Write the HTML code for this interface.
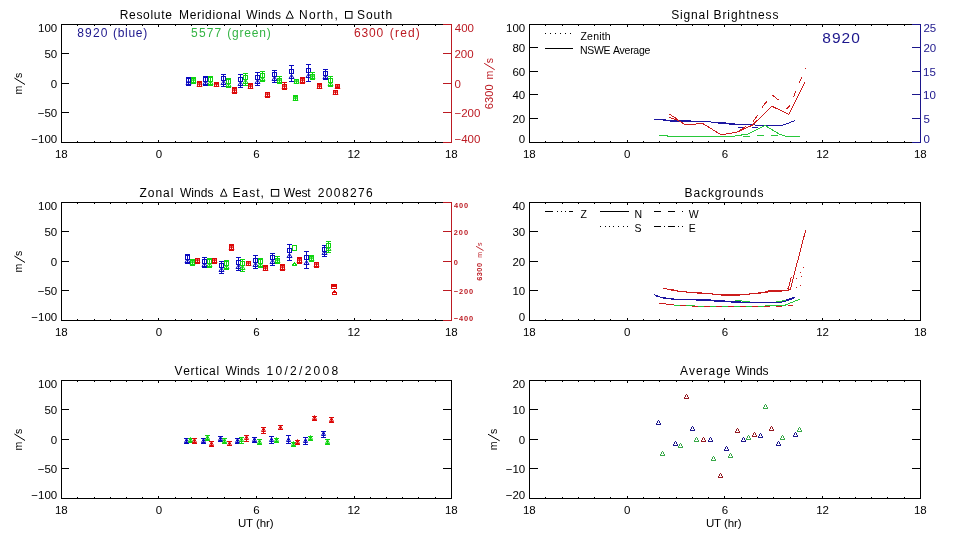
<!DOCTYPE html>
<html><head><meta charset="utf-8"><style>
html,body{margin:0;padding:0;background:#fff;}
svg{display:block;will-change:transform;}
text{font-family:"Liberation Sans",sans-serif;font-kerning:none;white-space:pre;}
</style></head><body>
<svg width="960" height="540" viewBox="0 0 960 540">
<rect width="960" height="540" fill="#fff"/>
<rect x="61" y="24" width="391" height="1" fill="#000"/>
<rect x="61" y="142" width="391" height="1" fill="#000"/>
<rect x="61" y="24" width="1" height="119" fill="#000"/>
<rect x="451" y="24" width="1" height="119" fill="#000"/>
<rect x="77" y="141" width="1" height="1" fill="#000"/>
<rect x="77" y="25" width="1" height="1" fill="#000"/>
<rect x="94" y="141" width="1" height="1" fill="#000"/>
<rect x="94" y="25" width="1" height="1" fill="#000"/>
<rect x="110" y="141" width="1" height="1" fill="#000"/>
<rect x="110" y="25" width="1" height="1" fill="#000"/>
<rect x="126" y="141" width="1" height="1" fill="#000"/>
<rect x="126" y="25" width="1" height="1" fill="#000"/>
<rect x="142" y="141" width="1" height="1" fill="#000"/>
<rect x="142" y="25" width="1" height="1" fill="#000"/>
<rect x="158" y="140" width="1" height="2" fill="#000"/>
<rect x="158" y="25" width="1" height="2" fill="#000"/>
<rect x="175" y="141" width="1" height="1" fill="#000"/>
<rect x="175" y="25" width="1" height="1" fill="#000"/>
<rect x="191" y="141" width="1" height="1" fill="#000"/>
<rect x="191" y="25" width="1" height="1" fill="#000"/>
<rect x="207" y="141" width="1" height="1" fill="#000"/>
<rect x="207" y="25" width="1" height="1" fill="#000"/>
<rect x="224" y="141" width="1" height="1" fill="#000"/>
<rect x="224" y="25" width="1" height="1" fill="#000"/>
<rect x="240" y="141" width="1" height="1" fill="#000"/>
<rect x="240" y="25" width="1" height="1" fill="#000"/>
<rect x="256" y="140" width="1" height="2" fill="#000"/>
<rect x="256" y="25" width="1" height="2" fill="#000"/>
<rect x="272" y="141" width="1" height="1" fill="#000"/>
<rect x="272" y="25" width="1" height="1" fill="#000"/>
<rect x="288" y="141" width="1" height="1" fill="#000"/>
<rect x="288" y="25" width="1" height="1" fill="#000"/>
<rect x="305" y="141" width="1" height="1" fill="#000"/>
<rect x="305" y="25" width="1" height="1" fill="#000"/>
<rect x="321" y="141" width="1" height="1" fill="#000"/>
<rect x="321" y="25" width="1" height="1" fill="#000"/>
<rect x="337" y="141" width="1" height="1" fill="#000"/>
<rect x="337" y="25" width="1" height="1" fill="#000"/>
<rect x="354" y="140" width="1" height="2" fill="#000"/>
<rect x="354" y="25" width="1" height="2" fill="#000"/>
<rect x="370" y="141" width="1" height="1" fill="#000"/>
<rect x="370" y="25" width="1" height="1" fill="#000"/>
<rect x="386" y="141" width="1" height="1" fill="#000"/>
<rect x="386" y="25" width="1" height="1" fill="#000"/>
<rect x="402" y="141" width="1" height="1" fill="#000"/>
<rect x="402" y="25" width="1" height="1" fill="#000"/>
<rect x="418" y="141" width="1" height="1" fill="#000"/>
<rect x="418" y="25" width="1" height="1" fill="#000"/>
<rect x="435" y="141" width="1" height="1" fill="#000"/>
<rect x="435" y="25" width="1" height="1" fill="#000"/>
<text x="54.92" y="158" font-size="11.5" fill="#000" letter-spacing="0">18</text>
<text x="155.8" y="158" font-size="11.5" fill="#000" letter-spacing="0">0</text>
<text x="253.26" y="158" font-size="11.5" fill="#000" letter-spacing="0">6</text>
<text x="347.46" y="158" font-size="11.5" fill="#000" letter-spacing="0">12</text>
<text x="444.92" y="158" font-size="11.5" fill="#000" letter-spacing="0">18</text>
<text x="38.06" y="32.2" font-size="11.5" fill="#000" letter-spacing="0">100</text>
<rect x="62" y="53" width="7" height="1" fill="#000"/>
<text x="44.46" y="58" font-size="11.5" fill="#000" letter-spacing="0">50</text>
<rect x="62" y="83" width="7" height="1" fill="#000"/>
<text x="50.85" y="87.5" font-size="11.5" fill="#000" letter-spacing="0">0</text>
<rect x="62" y="112" width="7" height="1" fill="#000"/>
<text x="37.74" y="117" font-size="11.5" fill="#000" letter-spacing="0">−50</text>
<text x="31.35" y="142.9" font-size="11.5" fill="#000" letter-spacing="0">−100</text>
<text transform="translate(22.2,0) rotate(-90)" x="-94.38" y="0" font-size="10.5" fill="#000" letter-spacing="0">m</text>
<text transform="translate(22.2,0) rotate(-90)" x="-77.98" y="0" font-size="10.5" fill="#000" letter-spacing="0">s</text>
<line x1="14.4" y1="78" x2="25" y2="84.5" stroke="#000" stroke-width="1"/>
<rect x="61" y="202" width="391" height="1" fill="#000"/>
<rect x="61" y="320" width="391" height="1" fill="#000"/>
<rect x="61" y="202" width="1" height="119" fill="#000"/>
<rect x="451" y="202" width="1" height="119" fill="#000"/>
<rect x="77" y="319" width="1" height="1" fill="#000"/>
<rect x="77" y="203" width="1" height="1" fill="#000"/>
<rect x="94" y="319" width="1" height="1" fill="#000"/>
<rect x="94" y="203" width="1" height="1" fill="#000"/>
<rect x="110" y="319" width="1" height="1" fill="#000"/>
<rect x="110" y="203" width="1" height="1" fill="#000"/>
<rect x="126" y="319" width="1" height="1" fill="#000"/>
<rect x="126" y="203" width="1" height="1" fill="#000"/>
<rect x="142" y="319" width="1" height="1" fill="#000"/>
<rect x="142" y="203" width="1" height="1" fill="#000"/>
<rect x="158" y="318" width="1" height="2" fill="#000"/>
<rect x="158" y="203" width="1" height="2" fill="#000"/>
<rect x="175" y="319" width="1" height="1" fill="#000"/>
<rect x="175" y="203" width="1" height="1" fill="#000"/>
<rect x="191" y="319" width="1" height="1" fill="#000"/>
<rect x="191" y="203" width="1" height="1" fill="#000"/>
<rect x="207" y="319" width="1" height="1" fill="#000"/>
<rect x="207" y="203" width="1" height="1" fill="#000"/>
<rect x="224" y="319" width="1" height="1" fill="#000"/>
<rect x="224" y="203" width="1" height="1" fill="#000"/>
<rect x="240" y="319" width="1" height="1" fill="#000"/>
<rect x="240" y="203" width="1" height="1" fill="#000"/>
<rect x="256" y="318" width="1" height="2" fill="#000"/>
<rect x="256" y="203" width="1" height="2" fill="#000"/>
<rect x="272" y="319" width="1" height="1" fill="#000"/>
<rect x="272" y="203" width="1" height="1" fill="#000"/>
<rect x="288" y="319" width="1" height="1" fill="#000"/>
<rect x="288" y="203" width="1" height="1" fill="#000"/>
<rect x="305" y="319" width="1" height="1" fill="#000"/>
<rect x="305" y="203" width="1" height="1" fill="#000"/>
<rect x="321" y="319" width="1" height="1" fill="#000"/>
<rect x="321" y="203" width="1" height="1" fill="#000"/>
<rect x="337" y="319" width="1" height="1" fill="#000"/>
<rect x="337" y="203" width="1" height="1" fill="#000"/>
<rect x="354" y="318" width="1" height="2" fill="#000"/>
<rect x="354" y="203" width="1" height="2" fill="#000"/>
<rect x="370" y="319" width="1" height="1" fill="#000"/>
<rect x="370" y="203" width="1" height="1" fill="#000"/>
<rect x="386" y="319" width="1" height="1" fill="#000"/>
<rect x="386" y="203" width="1" height="1" fill="#000"/>
<rect x="402" y="319" width="1" height="1" fill="#000"/>
<rect x="402" y="203" width="1" height="1" fill="#000"/>
<rect x="418" y="319" width="1" height="1" fill="#000"/>
<rect x="418" y="203" width="1" height="1" fill="#000"/>
<rect x="435" y="319" width="1" height="1" fill="#000"/>
<rect x="435" y="203" width="1" height="1" fill="#000"/>
<text x="54.92" y="336" font-size="11.5" fill="#000" letter-spacing="0">18</text>
<text x="155.8" y="336" font-size="11.5" fill="#000" letter-spacing="0">0</text>
<text x="253.26" y="336" font-size="11.5" fill="#000" letter-spacing="0">6</text>
<text x="347.46" y="336" font-size="11.5" fill="#000" letter-spacing="0">12</text>
<text x="444.92" y="336" font-size="11.5" fill="#000" letter-spacing="0">18</text>
<text x="38.06" y="210.2" font-size="11.5" fill="#000" letter-spacing="0">100</text>
<rect x="62" y="231" width="7" height="1" fill="#000"/>
<text x="44.46" y="236" font-size="11.5" fill="#000" letter-spacing="0">50</text>
<rect x="62" y="261" width="7" height="1" fill="#000"/>
<text x="50.85" y="265.5" font-size="11.5" fill="#000" letter-spacing="0">0</text>
<rect x="62" y="290" width="7" height="1" fill="#000"/>
<text x="37.74" y="295" font-size="11.5" fill="#000" letter-spacing="0">−50</text>
<text x="31.35" y="320.9" font-size="11.5" fill="#000" letter-spacing="0">−100</text>
<text transform="translate(22.2,0) rotate(-90)" x="-272.38" y="0" font-size="10.5" fill="#000" letter-spacing="0">m</text>
<text transform="translate(22.2,0) rotate(-90)" x="-255.98" y="0" font-size="10.5" fill="#000" letter-spacing="0">s</text>
<line x1="14.4" y1="256" x2="25" y2="262.5" stroke="#000" stroke-width="1"/>
<rect x="61" y="380" width="391" height="1" fill="#000"/>
<rect x="61" y="498" width="391" height="1" fill="#000"/>
<rect x="61" y="380" width="1" height="119" fill="#000"/>
<rect x="451" y="380" width="1" height="119" fill="#000"/>
<rect x="77" y="497" width="1" height="1" fill="#000"/>
<rect x="77" y="381" width="1" height="1" fill="#000"/>
<rect x="94" y="497" width="1" height="1" fill="#000"/>
<rect x="94" y="381" width="1" height="1" fill="#000"/>
<rect x="110" y="497" width="1" height="1" fill="#000"/>
<rect x="110" y="381" width="1" height="1" fill="#000"/>
<rect x="126" y="497" width="1" height="1" fill="#000"/>
<rect x="126" y="381" width="1" height="1" fill="#000"/>
<rect x="142" y="497" width="1" height="1" fill="#000"/>
<rect x="142" y="381" width="1" height="1" fill="#000"/>
<rect x="158" y="496" width="1" height="2" fill="#000"/>
<rect x="158" y="381" width="1" height="2" fill="#000"/>
<rect x="175" y="497" width="1" height="1" fill="#000"/>
<rect x="175" y="381" width="1" height="1" fill="#000"/>
<rect x="191" y="497" width="1" height="1" fill="#000"/>
<rect x="191" y="381" width="1" height="1" fill="#000"/>
<rect x="207" y="497" width="1" height="1" fill="#000"/>
<rect x="207" y="381" width="1" height="1" fill="#000"/>
<rect x="224" y="497" width="1" height="1" fill="#000"/>
<rect x="224" y="381" width="1" height="1" fill="#000"/>
<rect x="240" y="497" width="1" height="1" fill="#000"/>
<rect x="240" y="381" width="1" height="1" fill="#000"/>
<rect x="256" y="496" width="1" height="2" fill="#000"/>
<rect x="256" y="381" width="1" height="2" fill="#000"/>
<rect x="272" y="497" width="1" height="1" fill="#000"/>
<rect x="272" y="381" width="1" height="1" fill="#000"/>
<rect x="288" y="497" width="1" height="1" fill="#000"/>
<rect x="288" y="381" width="1" height="1" fill="#000"/>
<rect x="305" y="497" width="1" height="1" fill="#000"/>
<rect x="305" y="381" width="1" height="1" fill="#000"/>
<rect x="321" y="497" width="1" height="1" fill="#000"/>
<rect x="321" y="381" width="1" height="1" fill="#000"/>
<rect x="337" y="497" width="1" height="1" fill="#000"/>
<rect x="337" y="381" width="1" height="1" fill="#000"/>
<rect x="354" y="496" width="1" height="2" fill="#000"/>
<rect x="354" y="381" width="1" height="2" fill="#000"/>
<rect x="370" y="497" width="1" height="1" fill="#000"/>
<rect x="370" y="381" width="1" height="1" fill="#000"/>
<rect x="386" y="497" width="1" height="1" fill="#000"/>
<rect x="386" y="381" width="1" height="1" fill="#000"/>
<rect x="402" y="497" width="1" height="1" fill="#000"/>
<rect x="402" y="381" width="1" height="1" fill="#000"/>
<rect x="418" y="497" width="1" height="1" fill="#000"/>
<rect x="418" y="381" width="1" height="1" fill="#000"/>
<rect x="435" y="497" width="1" height="1" fill="#000"/>
<rect x="435" y="381" width="1" height="1" fill="#000"/>
<text x="54.92" y="514" font-size="11.5" fill="#000" letter-spacing="0">18</text>
<text x="155.8" y="514" font-size="11.5" fill="#000" letter-spacing="0">0</text>
<text x="253.26" y="514" font-size="11.5" fill="#000" letter-spacing="0">6</text>
<text x="347.46" y="514" font-size="11.5" fill="#000" letter-spacing="0">12</text>
<text x="444.92" y="514" font-size="11.5" fill="#000" letter-spacing="0">18</text>
<text x="38.06" y="388.2" font-size="11.5" fill="#000" letter-spacing="0">100</text>
<rect x="62" y="409" width="7" height="1" fill="#000"/>
<text x="44.46" y="414" font-size="11.5" fill="#000" letter-spacing="0">50</text>
<rect x="62" y="439" width="7" height="1" fill="#000"/>
<text x="50.85" y="443.5" font-size="11.5" fill="#000" letter-spacing="0">0</text>
<rect x="62" y="468" width="7" height="1" fill="#000"/>
<text x="37.74" y="473" font-size="11.5" fill="#000" letter-spacing="0">−50</text>
<text x="31.35" y="498.9" font-size="11.5" fill="#000" letter-spacing="0">−100</text>
<text transform="translate(22.2,0) rotate(-90)" x="-450.38" y="0" font-size="10.5" fill="#000" letter-spacing="0">m</text>
<text transform="translate(22.2,0) rotate(-90)" x="-433.98" y="0" font-size="10.5" fill="#000" letter-spacing="0">s</text>
<line x1="14.4" y1="434" x2="25" y2="440.5" stroke="#000" stroke-width="1"/>
<rect x="529" y="24" width="392" height="1" fill="#000"/>
<rect x="529" y="142" width="392" height="1" fill="#000"/>
<rect x="529" y="24" width="1" height="119" fill="#000"/>
<rect x="920" y="24" width="1" height="119" fill="#000"/>
<rect x="545" y="141" width="1" height="1" fill="#000"/>
<rect x="545" y="25" width="1" height="1" fill="#000"/>
<rect x="562" y="141" width="1" height="1" fill="#000"/>
<rect x="562" y="25" width="1" height="1" fill="#000"/>
<rect x="578" y="141" width="1" height="1" fill="#000"/>
<rect x="578" y="25" width="1" height="1" fill="#000"/>
<rect x="594" y="141" width="1" height="1" fill="#000"/>
<rect x="594" y="25" width="1" height="1" fill="#000"/>
<rect x="610" y="141" width="1" height="1" fill="#000"/>
<rect x="610" y="25" width="1" height="1" fill="#000"/>
<rect x="627" y="140" width="1" height="2" fill="#000"/>
<rect x="627" y="25" width="1" height="2" fill="#000"/>
<rect x="643" y="141" width="1" height="1" fill="#000"/>
<rect x="643" y="25" width="1" height="1" fill="#000"/>
<rect x="659" y="141" width="1" height="1" fill="#000"/>
<rect x="659" y="25" width="1" height="1" fill="#000"/>
<rect x="676" y="141" width="1" height="1" fill="#000"/>
<rect x="676" y="25" width="1" height="1" fill="#000"/>
<rect x="692" y="141" width="1" height="1" fill="#000"/>
<rect x="692" y="25" width="1" height="1" fill="#000"/>
<rect x="708" y="141" width="1" height="1" fill="#000"/>
<rect x="708" y="25" width="1" height="1" fill="#000"/>
<rect x="724" y="140" width="1" height="2" fill="#000"/>
<rect x="724" y="25" width="1" height="2" fill="#000"/>
<rect x="741" y="141" width="1" height="1" fill="#000"/>
<rect x="741" y="25" width="1" height="1" fill="#000"/>
<rect x="757" y="141" width="1" height="1" fill="#000"/>
<rect x="757" y="25" width="1" height="1" fill="#000"/>
<rect x="773" y="141" width="1" height="1" fill="#000"/>
<rect x="773" y="25" width="1" height="1" fill="#000"/>
<rect x="790" y="141" width="1" height="1" fill="#000"/>
<rect x="790" y="25" width="1" height="1" fill="#000"/>
<rect x="806" y="141" width="1" height="1" fill="#000"/>
<rect x="806" y="25" width="1" height="1" fill="#000"/>
<rect x="822" y="140" width="1" height="2" fill="#000"/>
<rect x="822" y="25" width="1" height="2" fill="#000"/>
<rect x="839" y="141" width="1" height="1" fill="#000"/>
<rect x="839" y="25" width="1" height="1" fill="#000"/>
<rect x="855" y="141" width="1" height="1" fill="#000"/>
<rect x="855" y="25" width="1" height="1" fill="#000"/>
<rect x="871" y="141" width="1" height="1" fill="#000"/>
<rect x="871" y="25" width="1" height="1" fill="#000"/>
<rect x="887" y="141" width="1" height="1" fill="#000"/>
<rect x="887" y="25" width="1" height="1" fill="#000"/>
<rect x="904" y="141" width="1" height="1" fill="#000"/>
<rect x="904" y="25" width="1" height="1" fill="#000"/>
<text x="522.92" y="158" font-size="11.5" fill="#000" letter-spacing="0">18</text>
<text x="624.05" y="158" font-size="11.5" fill="#000" letter-spacing="0">0</text>
<text x="721.76" y="158" font-size="11.5" fill="#000" letter-spacing="0">6</text>
<text x="816.21" y="158" font-size="11.5" fill="#000" letter-spacing="0">12</text>
<text x="913.92" y="158" font-size="11.5" fill="#000" letter-spacing="0">18</text>
<rect x="529" y="202" width="392" height="1" fill="#000"/>
<rect x="529" y="320" width="392" height="1" fill="#000"/>
<rect x="529" y="202" width="1" height="119" fill="#000"/>
<rect x="920" y="202" width="1" height="119" fill="#000"/>
<rect x="545" y="319" width="1" height="1" fill="#000"/>
<rect x="545" y="203" width="1" height="1" fill="#000"/>
<rect x="562" y="319" width="1" height="1" fill="#000"/>
<rect x="562" y="203" width="1" height="1" fill="#000"/>
<rect x="578" y="319" width="1" height="1" fill="#000"/>
<rect x="578" y="203" width="1" height="1" fill="#000"/>
<rect x="594" y="319" width="1" height="1" fill="#000"/>
<rect x="594" y="203" width="1" height="1" fill="#000"/>
<rect x="610" y="319" width="1" height="1" fill="#000"/>
<rect x="610" y="203" width="1" height="1" fill="#000"/>
<rect x="627" y="318" width="1" height="2" fill="#000"/>
<rect x="627" y="203" width="1" height="2" fill="#000"/>
<rect x="643" y="319" width="1" height="1" fill="#000"/>
<rect x="643" y="203" width="1" height="1" fill="#000"/>
<rect x="659" y="319" width="1" height="1" fill="#000"/>
<rect x="659" y="203" width="1" height="1" fill="#000"/>
<rect x="676" y="319" width="1" height="1" fill="#000"/>
<rect x="676" y="203" width="1" height="1" fill="#000"/>
<rect x="692" y="319" width="1" height="1" fill="#000"/>
<rect x="692" y="203" width="1" height="1" fill="#000"/>
<rect x="708" y="319" width="1" height="1" fill="#000"/>
<rect x="708" y="203" width="1" height="1" fill="#000"/>
<rect x="724" y="318" width="1" height="2" fill="#000"/>
<rect x="724" y="203" width="1" height="2" fill="#000"/>
<rect x="741" y="319" width="1" height="1" fill="#000"/>
<rect x="741" y="203" width="1" height="1" fill="#000"/>
<rect x="757" y="319" width="1" height="1" fill="#000"/>
<rect x="757" y="203" width="1" height="1" fill="#000"/>
<rect x="773" y="319" width="1" height="1" fill="#000"/>
<rect x="773" y="203" width="1" height="1" fill="#000"/>
<rect x="790" y="319" width="1" height="1" fill="#000"/>
<rect x="790" y="203" width="1" height="1" fill="#000"/>
<rect x="806" y="319" width="1" height="1" fill="#000"/>
<rect x="806" y="203" width="1" height="1" fill="#000"/>
<rect x="822" y="318" width="1" height="2" fill="#000"/>
<rect x="822" y="203" width="1" height="2" fill="#000"/>
<rect x="839" y="319" width="1" height="1" fill="#000"/>
<rect x="839" y="203" width="1" height="1" fill="#000"/>
<rect x="855" y="319" width="1" height="1" fill="#000"/>
<rect x="855" y="203" width="1" height="1" fill="#000"/>
<rect x="871" y="319" width="1" height="1" fill="#000"/>
<rect x="871" y="203" width="1" height="1" fill="#000"/>
<rect x="887" y="319" width="1" height="1" fill="#000"/>
<rect x="887" y="203" width="1" height="1" fill="#000"/>
<rect x="904" y="319" width="1" height="1" fill="#000"/>
<rect x="904" y="203" width="1" height="1" fill="#000"/>
<text x="522.92" y="336" font-size="11.5" fill="#000" letter-spacing="0">18</text>
<text x="624.05" y="336" font-size="11.5" fill="#000" letter-spacing="0">0</text>
<text x="721.76" y="336" font-size="11.5" fill="#000" letter-spacing="0">6</text>
<text x="816.21" y="336" font-size="11.5" fill="#000" letter-spacing="0">12</text>
<text x="913.92" y="336" font-size="11.5" fill="#000" letter-spacing="0">18</text>
<rect x="529" y="380" width="392" height="1" fill="#000"/>
<rect x="529" y="498" width="392" height="1" fill="#000"/>
<rect x="529" y="380" width="1" height="119" fill="#000"/>
<rect x="920" y="380" width="1" height="119" fill="#000"/>
<rect x="545" y="497" width="1" height="1" fill="#000"/>
<rect x="545" y="381" width="1" height="1" fill="#000"/>
<rect x="562" y="497" width="1" height="1" fill="#000"/>
<rect x="562" y="381" width="1" height="1" fill="#000"/>
<rect x="578" y="497" width="1" height="1" fill="#000"/>
<rect x="578" y="381" width="1" height="1" fill="#000"/>
<rect x="594" y="497" width="1" height="1" fill="#000"/>
<rect x="594" y="381" width="1" height="1" fill="#000"/>
<rect x="610" y="497" width="1" height="1" fill="#000"/>
<rect x="610" y="381" width="1" height="1" fill="#000"/>
<rect x="627" y="496" width="1" height="2" fill="#000"/>
<rect x="627" y="381" width="1" height="2" fill="#000"/>
<rect x="643" y="497" width="1" height="1" fill="#000"/>
<rect x="643" y="381" width="1" height="1" fill="#000"/>
<rect x="659" y="497" width="1" height="1" fill="#000"/>
<rect x="659" y="381" width="1" height="1" fill="#000"/>
<rect x="676" y="497" width="1" height="1" fill="#000"/>
<rect x="676" y="381" width="1" height="1" fill="#000"/>
<rect x="692" y="497" width="1" height="1" fill="#000"/>
<rect x="692" y="381" width="1" height="1" fill="#000"/>
<rect x="708" y="497" width="1" height="1" fill="#000"/>
<rect x="708" y="381" width="1" height="1" fill="#000"/>
<rect x="724" y="496" width="1" height="2" fill="#000"/>
<rect x="724" y="381" width="1" height="2" fill="#000"/>
<rect x="741" y="497" width="1" height="1" fill="#000"/>
<rect x="741" y="381" width="1" height="1" fill="#000"/>
<rect x="757" y="497" width="1" height="1" fill="#000"/>
<rect x="757" y="381" width="1" height="1" fill="#000"/>
<rect x="773" y="497" width="1" height="1" fill="#000"/>
<rect x="773" y="381" width="1" height="1" fill="#000"/>
<rect x="790" y="497" width="1" height="1" fill="#000"/>
<rect x="790" y="381" width="1" height="1" fill="#000"/>
<rect x="806" y="497" width="1" height="1" fill="#000"/>
<rect x="806" y="381" width="1" height="1" fill="#000"/>
<rect x="822" y="496" width="1" height="2" fill="#000"/>
<rect x="822" y="381" width="1" height="2" fill="#000"/>
<rect x="839" y="497" width="1" height="1" fill="#000"/>
<rect x="839" y="381" width="1" height="1" fill="#000"/>
<rect x="855" y="497" width="1" height="1" fill="#000"/>
<rect x="855" y="381" width="1" height="1" fill="#000"/>
<rect x="871" y="497" width="1" height="1" fill="#000"/>
<rect x="871" y="381" width="1" height="1" fill="#000"/>
<rect x="887" y="497" width="1" height="1" fill="#000"/>
<rect x="887" y="381" width="1" height="1" fill="#000"/>
<rect x="904" y="497" width="1" height="1" fill="#000"/>
<rect x="904" y="381" width="1" height="1" fill="#000"/>
<text x="522.92" y="514" font-size="11.5" fill="#000" letter-spacing="0">18</text>
<text x="624.05" y="514" font-size="11.5" fill="#000" letter-spacing="0">0</text>
<text x="721.76" y="514" font-size="11.5" fill="#000" letter-spacing="0">6</text>
<text x="816.21" y="514" font-size="11.5" fill="#000" letter-spacing="0">12</text>
<text x="913.92" y="514" font-size="11.5" fill="#000" letter-spacing="0">18</text>
<text x="506.06" y="32.2" font-size="11.5" fill="#000" letter-spacing="0">100</text>
<rect x="530" y="47" width="8" height="1" fill="#000"/>
<text x="512.46" y="52.1" font-size="11.5" fill="#000" letter-spacing="0">80</text>
<rect x="530" y="71" width="8" height="1" fill="#000"/>
<text x="512.46" y="75.7" font-size="11.5" fill="#000" letter-spacing="0">60</text>
<rect x="530" y="94" width="8" height="1" fill="#000"/>
<text x="512.46" y="99.3" font-size="11.5" fill="#000" letter-spacing="0">40</text>
<rect x="530" y="118" width="8" height="1" fill="#000"/>
<text x="512.46" y="122.9" font-size="11.5" fill="#000" letter-spacing="0">20</text>
<text x="518.85" y="142.9" font-size="11.5" fill="#000" letter-spacing="0">0</text>
<text x="512.46" y="210.2" font-size="11.5" fill="#000" letter-spacing="0">40</text>
<rect x="530" y="231" width="8" height="1" fill="#000"/>
<text x="512.46" y="236" font-size="11.5" fill="#000" letter-spacing="0">30</text>
<rect x="530" y="261" width="8" height="1" fill="#000"/>
<text x="512.46" y="265.5" font-size="11.5" fill="#000" letter-spacing="0">20</text>
<rect x="530" y="290" width="8" height="1" fill="#000"/>
<text x="512.46" y="295" font-size="11.5" fill="#000" letter-spacing="0">10</text>
<text x="518.85" y="320.9" font-size="11.5" fill="#000" letter-spacing="0">0</text>
<text x="512.46" y="388.2" font-size="11.5" fill="#000" letter-spacing="0">20</text>
<rect x="530" y="409" width="8" height="1" fill="#000"/>
<text x="512.46" y="414" font-size="11.5" fill="#000" letter-spacing="0">10</text>
<rect x="530" y="439" width="8" height="1" fill="#000"/>
<text x="518.85" y="443.5" font-size="11.5" fill="#000" letter-spacing="0">0</text>
<rect x="530" y="468" width="8" height="1" fill="#000"/>
<text x="505.74" y="473" font-size="11.5" fill="#000" letter-spacing="0">−10</text>
<text x="505.74" y="498.9" font-size="11.5" fill="#000" letter-spacing="0">−20</text>
<rect x="443" y="409" width="8" height="1" fill="#000"/>
<rect x="443" y="439" width="8" height="1" fill="#000"/>
<rect x="443" y="468" width="8" height="1" fill="#000"/>
<rect x="912" y="231" width="8" height="1" fill="#000"/>
<rect x="912" y="261" width="8" height="1" fill="#000"/>
<rect x="912" y="290" width="8" height="1" fill="#000"/>
<rect x="912" y="409" width="8" height="1" fill="#000"/>
<rect x="912" y="439" width="8" height="1" fill="#000"/>
<rect x="912" y="468" width="8" height="1" fill="#000"/>
<text transform="translate(497.3,0) rotate(-90)" x="-450.18" y="0" font-size="10.5" fill="#000" letter-spacing="0">m</text>
<text transform="translate(497.3,0) rotate(-90)" x="-433.98" y="0" font-size="10.5" fill="#000" letter-spacing="0">s</text>
<line x1="488" y1="434.2" x2="499.7" y2="440.8" stroke="#000" stroke-width="1"/>
<rect x="451" y="24" width="1" height="119" fill="#bc1a22"/>
<rect x="443" y="24" width="9" height="1" fill="#bc1a22"/>
<rect x="443" y="142" width="9" height="1" fill="#bc1a22"/>
<text x="454.74" y="32.2" font-size="11.5" fill="#bc1a22" letter-spacing="0">400</text>
<rect x="443" y="53" width="8" height="1" fill="#bc1a22"/>
<text x="454.42" y="58" font-size="11.5" fill="#bc1a22" letter-spacing="0">200</text>
<rect x="443" y="83" width="8" height="1" fill="#bc1a22"/>
<text x="454.55" y="87.5" font-size="11.5" fill="#bc1a22" letter-spacing="0">0</text>
<rect x="443" y="112" width="8" height="1" fill="#bc1a22"/>
<text x="454.43" y="117" font-size="11.5" fill="#bc1a22" letter-spacing="0">−200</text>
<text x="454.43" y="142.9" font-size="11.5" fill="#bc1a22" letter-spacing="0">−400</text>
<text transform="translate(492.8,0) rotate(-90)" x="-109.36" y="0" font-size="11" fill="#bc1a22" letter-spacing="0.14">6300</text>
<text transform="translate(493.1,0) rotate(-90)" x="-79.38" y="0" font-size="10.5" fill="#bc1a22" letter-spacing="0">m</text>
<text transform="translate(493.1,0) rotate(-90)" x="-63.28" y="0" font-size="10.5" fill="#bc1a22" letter-spacing="0">s</text>
<line x1="484.2" y1="63.3" x2="494.7" y2="69.7" stroke="#bc1a22" stroke-width="1"/>
<rect x="451" y="202" width="1" height="119" fill="#bc1a22"/>
<rect x="443" y="202" width="9" height="1" fill="#bc1a22"/>
<rect x="443" y="320" width="9" height="1" fill="#bc1a22"/>
<text x="453.89" y="207.7" font-size="7.4" fill="#bc1a22" letter-spacing="0.93" font-weight="bold">400</text>
<rect x="443" y="231" width="8" height="1" fill="#bc1a22"/>
<text x="453.74" y="235" font-size="7.4" fill="#bc1a22" letter-spacing="1.01" font-weight="bold">200</text>
<rect x="443" y="261" width="8" height="1" fill="#bc1a22"/>
<text x="453.85" y="264.5" font-size="7.4" fill="#bc1a22" letter-spacing="0" font-weight="bold">0</text>
<rect x="443" y="290" width="8" height="1" fill="#bc1a22"/>
<text x="453.69" y="294" font-size="7.4" fill="#bc1a22" letter-spacing="0.91" font-weight="bold">−200</text>
<text x="453.69" y="320.8" font-size="7.4" fill="#bc1a22" letter-spacing="0.91" font-weight="bold">−400</text>
<text transform="translate(481.5,0) rotate(-90)" x="-280.87" y="0" font-size="7.4" fill="#bc1a22" letter-spacing="0.5" font-weight="bold">6300</text>
<text transform="translate(481.5,0) rotate(-90)" x="-257.87" y="0" font-size="7" fill="#bc1a22" letter-spacing="0">m</text>
<text transform="translate(481.5,0) rotate(-90)" x="-246.02" y="0" font-size="7" fill="#bc1a22" letter-spacing="0">s</text>
<line x1="476.1" y1="246.3" x2="483.5" y2="250.6" stroke="#bc1a22" stroke-width="0.9"/>
<rect x="920" y="24" width="1" height="119" fill="#1c168c"/>
<rect x="912" y="24" width="9" height="1" fill="#1c168c"/>
<rect x="912" y="142" width="9" height="1" fill="#1c168c"/>
<text x="923.42" y="32.2" font-size="11.5" fill="#1c168c" letter-spacing="0">25</text>
<rect x="912" y="47" width="8" height="1" fill="#1c168c"/>
<text x="923.42" y="52.1" font-size="11.5" fill="#1c168c" letter-spacing="0">20</text>
<rect x="912" y="71" width="8" height="1" fill="#1c168c"/>
<text x="923.12" y="75.7" font-size="11.5" fill="#1c168c" letter-spacing="0">15</text>
<rect x="912" y="94" width="8" height="1" fill="#1c168c"/>
<text x="923.12" y="99.3" font-size="11.5" fill="#1c168c" letter-spacing="0">10</text>
<rect x="912" y="118" width="8" height="1" fill="#1c168c"/>
<text x="923.54" y="122.9" font-size="11.5" fill="#1c168c" letter-spacing="0">5</text>
<text x="923.55" y="142.9" font-size="11.5" fill="#1c168c" letter-spacing="0">0</text>
<text x="119.72" y="18.7" font-size="12" fill="#000" letter-spacing="0.68">Resolute</text>
<text x="179.02" y="18.7" font-size="12" fill="#000" letter-spacing="0.69">Meridional</text>
<text x="246.25" y="18.7" font-size="12" fill="#000" letter-spacing="0.36">Winds</text>
<polygon points="286.1,18.2 293.3,18.2 289.7,10.8" fill="none" stroke="#000" stroke-width="1"/>
<text x="299.02" y="18.7" font-size="12" fill="#000" letter-spacing="1.22">North,</text>
<rect x="345.5" y="11.5" width="6.5" height="6.7" fill="none" stroke="#000" stroke-width="1"/>
<text x="356.96" y="18.7" font-size="12" fill="#000" letter-spacing="0.94">South</text>
<text x="139.62" y="196.7" font-size="12" fill="#000" letter-spacing="0.92">Zonal</text>
<text x="179.95" y="196.7" font-size="12" fill="#000" letter-spacing="0.04">Winds</text>
<polygon points="220.5,196.2 227,196.2 223.75,188.8" fill="none" stroke="#000" stroke-width="1"/>
<text x="232.52" y="196.7" font-size="12" fill="#000" letter-spacing="1">East,</text>
<rect x="271.4" y="189.5" width="7.3" height="6.7" fill="none" stroke="#000" stroke-width="1"/>
<text x="283.85" y="196.7" font-size="12" fill="#000" letter-spacing="-0.2">West</text>
<text x="317.7" y="196.7" font-size="12" fill="#000" letter-spacing="1.39">2008276</text>
<text x="174.55" y="374.9" font-size="12" fill="#000" letter-spacing="0.65">Vertical</text>
<text x="225.55" y="374.9" font-size="12" fill="#000" letter-spacing="0.21">Winds</text>
<text x="266.59" y="374.9" font-size="12" fill="#000" letter-spacing="2.28">10/2/2008</text>
<text x="671.16" y="18.9" font-size="12" fill="#000" letter-spacing="0.86">Signal</text>
<text x="713.52" y="18.9" font-size="12" fill="#000" letter-spacing="0.92">Brightness</text>
<text x="684.62" y="196.6" font-size="12" fill="#000" letter-spacing="0.89">Backgrounds</text>
<text x="679.98" y="374.9" font-size="12" fill="#000" letter-spacing="0.98">Average</text>
<text x="735.45" y="374.9" font-size="12" fill="#000" letter-spacing="-0.06">Winds</text>
<text x="237.91" y="526.8" font-size="11.5" fill="#000" letter-spacing="-0.12">UT (hr)</text>
<text x="705.91" y="526.8" font-size="11.5" fill="#000" letter-spacing="-0.12">UT (hr)</text>
<text x="77.18" y="36.6" font-size="12" fill="#1c168c" letter-spacing="1.2">8920</text>
<text x="112.96" y="36.6" font-size="12" fill="#1c168c" letter-spacing="0.72">(blue)</text>
<text x="191.12" y="36.7" font-size="12" fill="#34b444" letter-spacing="1.13">5577</text>
<text x="227.16" y="36.7" font-size="12" fill="#34b444" letter-spacing="0.82">(green)</text>
<text x="354.09" y="36.5" font-size="12" fill="#bc1a22" letter-spacing="0.83">6300</text>
<text x="389.86" y="36.5" font-size="12" fill="#bc1a22" letter-spacing="1.16">(red)</text>
<rect x="545" y="33" width="1" height="1" fill="#000"/>
<rect x="550" y="33" width="1" height="1" fill="#000"/>
<rect x="555" y="33" width="1" height="1" fill="#000"/>
<rect x="560" y="33" width="1" height="1" fill="#000"/>
<rect x="565" y="33" width="1" height="1" fill="#000"/>
<rect x="570" y="33" width="1" height="1" fill="#000"/>
<text x="580.47" y="39.7" font-size="10.5" fill="#000" letter-spacing="0.21">Zenith</text>
<rect x="545" y="48" width="28" height="1" fill="#000"/>
<text x="579.94" y="54.1" font-size="10.5" fill="#000" letter-spacing="-0.29">NSWE Average</text>
<text x="822.33" y="43" font-size="15.5" fill="#1c168c" letter-spacing="1">8920</text>
<rect x="545" y="211" width="8" height="1" fill="#000"/>
<rect x="557" y="211" width="1" height="1" fill="#000"/>
<rect x="561" y="211" width="1" height="1" fill="#000"/>
<rect x="565" y="211" width="1" height="1" fill="#000"/>
<rect x="569" y="211" width="4" height="1" fill="#000"/>
<text x="580.39" y="217.7" font-size="10.5" fill="#000" letter-spacing="0">Z</text>
<rect x="600" y="211" width="29" height="1" fill="#000"/>
<text x="634.41" y="217.7" font-size="10.5" fill="#000" letter-spacing="0">N</text>
<rect x="654" y="211" width="7" height="1" fill="#000"/>
<rect x="668" y="211" width="7" height="1" fill="#000"/>
<rect x="682" y="211" width="1" height="1" fill="#000"/>
<text x="688.64" y="217.7" font-size="10.5" fill="#000" letter-spacing="0">W</text>
<rect x="600" y="226" width="1" height="1" fill="#000"/>
<rect x="605" y="226" width="1" height="1" fill="#000"/>
<rect x="609" y="226" width="1" height="1" fill="#000"/>
<rect x="613" y="226" width="1" height="1" fill="#000"/>
<rect x="618" y="226" width="1" height="1" fill="#000"/>
<rect x="623" y="226" width="1" height="1" fill="#000"/>
<rect x="627" y="226" width="1" height="1" fill="#000"/>
<text x="634.45" y="231.9" font-size="10.5" fill="#000" letter-spacing="0">S</text>
<rect x="654" y="226" width="7" height="1" fill="#000"/>
<rect x="664" y="226" width="1" height="1" fill="#000"/>
<rect x="668" y="226" width="7" height="1" fill="#000"/>
<rect x="678" y="226" width="1" height="1" fill="#000"/>
<rect x="682" y="226" width="1" height="1" fill="#000"/>
<text x="688.74" y="232" font-size="10.5" fill="#000" letter-spacing="0">E</text>
<rect x="186" y="77" width="5" height="1" fill="#0a0ac0"/>
<rect x="186" y="85" width="5" height="1" fill="#0a0ac0"/>
<rect x="188" y="77" width="1" height="9" fill="#0a0ac0"/>
<rect x="186.5" y="78.5" width="4" height="4" fill="none" stroke="#0a0ac0"/>
<polygon points="186.0,84.5 191.0,84.5 188.5,80.5" fill="none" stroke="#0a0ac0"/>
<rect x="191" y="77" width="5" height="1" fill="#10d410"/>
<rect x="191" y="83" width="5" height="1" fill="#10d410"/>
<rect x="193" y="77" width="1" height="7" fill="#10d410"/>
<rect x="191.5" y="78.5" width="4" height="4" fill="none" stroke="#10d410"/>
<polygon points="191.0,82.5 196.0,82.5 193.5,78.5" fill="none" stroke="#10d410"/>
<rect x="197" y="81" width="5" height="1" fill="#dc0808"/>
<rect x="197" y="86" width="5" height="1" fill="#dc0808"/>
<rect x="199" y="81" width="1" height="6" fill="#dc0808"/>
<rect x="197.5" y="82.5" width="4" height="4" fill="none" stroke="#dc0808"/>
<polygon points="197.0,86.5 202.0,86.5 199.5,82.5" fill="none" stroke="#dc0808"/>
<rect x="203" y="76" width="5" height="1" fill="#0a0ac0"/>
<rect x="203" y="85" width="5" height="1" fill="#0a0ac0"/>
<rect x="205" y="76" width="1" height="10" fill="#0a0ac0"/>
<rect x="203.5" y="77.5" width="4" height="4" fill="none" stroke="#0a0ac0"/>
<polygon points="203.0,84.5 208.0,84.5 205.5,80.5" fill="none" stroke="#0a0ac0"/>
<rect x="208" y="76" width="5" height="1" fill="#10d410"/>
<rect x="208" y="85" width="5" height="1" fill="#10d410"/>
<rect x="210" y="76" width="1" height="10" fill="#10d410"/>
<rect x="208.5" y="77.5" width="4" height="4" fill="none" stroke="#10d410"/>
<polygon points="208.0,84.5 213.0,84.5 210.5,80.5" fill="none" stroke="#10d410"/>
<rect x="214" y="83" width="5" height="1" fill="#dc0808"/>
<rect x="214" y="86" width="5" height="1" fill="#dc0808"/>
<rect x="216" y="83" width="1" height="4" fill="#dc0808"/>
<rect x="214.5" y="82.5" width="4" height="4" fill="none" stroke="#dc0808"/>
<polygon points="214.0,86.5 219.0,86.5 216.5,82.5" fill="none" stroke="#dc0808"/>
<rect x="221" y="74" width="5" height="1" fill="#0a0ac0"/>
<rect x="221" y="86" width="5" height="1" fill="#0a0ac0"/>
<rect x="223" y="74" width="1" height="13" fill="#0a0ac0"/>
<rect x="221.5" y="76.5" width="4" height="4" fill="none" stroke="#0a0ac0"/>
<polygon points="221.0,84.5 226.0,84.5 223.5,80.5" fill="none" stroke="#0a0ac0"/>
<rect x="226" y="78" width="5" height="1" fill="#10d410"/>
<rect x="226" y="87" width="5" height="1" fill="#10d410"/>
<rect x="228" y="78" width="1" height="10" fill="#10d410"/>
<rect x="226.5" y="79.5" width="4" height="4" fill="none" stroke="#10d410"/>
<polygon points="226.0,86.5 231.0,86.5 228.5,82.5" fill="none" stroke="#10d410"/>
<rect x="232" y="87" width="5" height="1" fill="#dc0808"/>
<rect x="232" y="93" width="5" height="1" fill="#dc0808"/>
<rect x="234" y="87" width="1" height="7" fill="#dc0808"/>
<rect x="232.5" y="88.5" width="4" height="4" fill="none" stroke="#dc0808"/>
<polygon points="232.0,92.5 237.0,92.5 234.5,88.5" fill="none" stroke="#dc0808"/>
<rect x="238" y="74" width="5" height="1" fill="#0a0ac0"/>
<rect x="238" y="87" width="5" height="1" fill="#0a0ac0"/>
<rect x="240" y="74" width="1" height="14" fill="#0a0ac0"/>
<rect x="238.5" y="77.5" width="4" height="4" fill="none" stroke="#0a0ac0"/>
<polygon points="238.0,85.5 243.0,85.5 240.5,81.5" fill="none" stroke="#0a0ac0"/>
<rect x="243" y="73" width="5" height="1" fill="#10d410"/>
<rect x="243" y="85" width="5" height="1" fill="#10d410"/>
<rect x="245" y="73" width="1" height="13" fill="#10d410"/>
<rect x="243.5" y="75.5" width="4" height="4" fill="none" stroke="#10d410"/>
<polygon points="243.0,83.5 248.0,83.5 245.5,79.5" fill="none" stroke="#10d410"/>
<rect x="248" y="83" width="5" height="1" fill="#dc0808"/>
<rect x="248" y="88" width="5" height="1" fill="#dc0808"/>
<rect x="250" y="83" width="1" height="6" fill="#dc0808"/>
<rect x="248.5" y="84.5" width="4" height="4" fill="none" stroke="#dc0808"/>
<polygon points="248.0,88.5 253.0,88.5 250.5,84.5" fill="none" stroke="#dc0808"/>
<rect x="255" y="72" width="5" height="1" fill="#0a0ac0"/>
<rect x="255" y="85" width="5" height="1" fill="#0a0ac0"/>
<rect x="257" y="72" width="1" height="14" fill="#0a0ac0"/>
<rect x="255.5" y="75.5" width="4" height="4" fill="none" stroke="#0a0ac0"/>
<polygon points="255.0,83.5 260.0,83.5 257.5,79.5" fill="none" stroke="#0a0ac0"/>
<rect x="260" y="71" width="5" height="1" fill="#10d410"/>
<rect x="260" y="81" width="5" height="1" fill="#10d410"/>
<rect x="262" y="71" width="1" height="11" fill="#10d410"/>
<rect x="260.5" y="73.5" width="4" height="4" fill="none" stroke="#10d410"/>
<polygon points="260.0,80.5 265.0,80.5 262.5,76.5" fill="none" stroke="#10d410"/>
<rect x="265" y="92" width="5" height="1" fill="#dc0808"/>
<rect x="265" y="97" width="5" height="1" fill="#dc0808"/>
<rect x="267" y="92" width="1" height="6" fill="#dc0808"/>
<rect x="265.5" y="92.5" width="4" height="4" fill="none" stroke="#dc0808"/>
<polygon points="265.0,96.5 270.0,96.5 267.5,92.5" fill="none" stroke="#dc0808"/>
<rect x="272" y="70" width="5" height="1" fill="#0a0ac0"/>
<rect x="272" y="82" width="5" height="1" fill="#0a0ac0"/>
<rect x="274" y="70" width="1" height="13" fill="#0a0ac0"/>
<rect x="272.5" y="72.5" width="4" height="4" fill="none" stroke="#0a0ac0"/>
<polygon points="272.0,80.5 277.0,80.5 274.5,76.5" fill="none" stroke="#0a0ac0"/>
<rect x="277" y="76" width="5" height="1" fill="#10d410"/>
<rect x="277" y="83" width="5" height="1" fill="#10d410"/>
<rect x="279" y="76" width="1" height="8" fill="#10d410"/>
<rect x="277.5" y="78.5" width="4" height="4" fill="none" stroke="#10d410"/>
<polygon points="277.0,82.5 282.0,82.5 279.5,78.5" fill="none" stroke="#10d410"/>
<rect x="282" y="82" width="5" height="1" fill="#dc0808"/>
<rect x="282" y="89" width="5" height="1" fill="#dc0808"/>
<rect x="284" y="82" width="1" height="8" fill="#dc0808"/>
<rect x="282.5" y="84.5" width="4" height="4" fill="none" stroke="#dc0808"/>
<polygon points="282.0,88.5 287.0,88.5 284.5,84.5" fill="none" stroke="#dc0808"/>
<rect x="289" y="65" width="5" height="1" fill="#0a0ac0"/>
<rect x="289" y="81" width="5" height="1" fill="#0a0ac0"/>
<rect x="291" y="65" width="1" height="17" fill="#0a0ac0"/>
<rect x="289.5" y="69.5" width="4" height="4" fill="none" stroke="#0a0ac0"/>
<polygon points="289.0,78.5 294.0,78.5 291.5,74.5" fill="none" stroke="#0a0ac0"/>
<rect x="294" y="79" width="5" height="1" fill="#10d410"/>
<rect x="294" y="83" width="5" height="1" fill="#10d410"/>
<rect x="296" y="79" width="1" height="5" fill="#10d410"/>
<rect x="294.5" y="79.5" width="4" height="4" fill="none" stroke="#10d410"/>
<polygon points="294.0,83.5 299.0,83.5 296.5,79.5" fill="none" stroke="#10d410"/>
<rect x="293" y="95" width="5" height="1" fill="#10d410"/>
<rect x="293" y="100" width="5" height="1" fill="#10d410"/>
<rect x="295" y="95" width="1" height="6" fill="#10d410"/>
<rect x="293.5" y="96.5" width="4" height="4" fill="none" stroke="#10d410"/>
<polygon points="293.0,100.5 298.0,100.5 295.5,96.5" fill="none" stroke="#10d410"/>
<rect x="300" y="77" width="5" height="1" fill="#dc0808"/>
<rect x="300" y="83" width="5" height="1" fill="#dc0808"/>
<rect x="302" y="77" width="1" height="7" fill="#dc0808"/>
<rect x="300.5" y="78.5" width="4" height="4" fill="none" stroke="#dc0808"/>
<polygon points="300.0,82.5 305.0,82.5 302.5,78.5" fill="none" stroke="#dc0808"/>
<rect x="306" y="64" width="5" height="1" fill="#0a0ac0"/>
<rect x="306" y="81" width="5" height="1" fill="#0a0ac0"/>
<rect x="308" y="64" width="1" height="18" fill="#0a0ac0"/>
<rect x="306.5" y="68.5" width="4" height="4" fill="none" stroke="#0a0ac0"/>
<polygon points="306.0,77.5 311.0,77.5 308.5,73.5" fill="none" stroke="#0a0ac0"/>
<rect x="310" y="72" width="5" height="1" fill="#10d410"/>
<rect x="310" y="79" width="5" height="1" fill="#10d410"/>
<rect x="312" y="72" width="1" height="8" fill="#10d410"/>
<rect x="310.5" y="74.5" width="4" height="4" fill="none" stroke="#10d410"/>
<polygon points="310.0,78.5 315.0,78.5 312.5,74.5" fill="none" stroke="#10d410"/>
<rect x="317" y="83" width="5" height="1" fill="#dc0808"/>
<rect x="317" y="88" width="5" height="1" fill="#dc0808"/>
<rect x="319" y="83" width="1" height="6" fill="#dc0808"/>
<rect x="317.5" y="84.5" width="4" height="4" fill="none" stroke="#dc0808"/>
<polygon points="317.0,88.5 322.0,88.5 319.5,84.5" fill="none" stroke="#dc0808"/>
<rect x="323" y="69" width="5" height="1" fill="#0a0ac0"/>
<rect x="323" y="79" width="5" height="1" fill="#0a0ac0"/>
<rect x="325" y="69" width="1" height="11" fill="#0a0ac0"/>
<rect x="323.5" y="71.5" width="4" height="4" fill="none" stroke="#0a0ac0"/>
<polygon points="323.0,78.5 328.0,78.5 325.5,74.5" fill="none" stroke="#0a0ac0"/>
<rect x="328" y="76" width="5" height="1" fill="#10d410"/>
<rect x="328" y="86" width="5" height="1" fill="#10d410"/>
<rect x="330" y="76" width="1" height="11" fill="#10d410"/>
<rect x="328.5" y="78.5" width="4" height="4" fill="none" stroke="#10d410"/>
<polygon points="328.0,85.5 333.0,85.5 330.5,81.5" fill="none" stroke="#10d410"/>
<rect x="335" y="84" width="5" height="1" fill="#dc0808"/>
<rect x="335" y="87" width="5" height="1" fill="#dc0808"/>
<rect x="337" y="84" width="1" height="4" fill="#dc0808"/>
<rect x="335.5" y="84.5" width="4" height="4" fill="none" stroke="#dc0808"/>
<polygon points="335.0,88.5 340.0,88.5 337.5,84.5" fill="none" stroke="#dc0808"/>
<rect x="333" y="90" width="5" height="1" fill="#dc0808"/>
<rect x="333" y="94" width="5" height="1" fill="#dc0808"/>
<rect x="335" y="90" width="1" height="5" fill="#dc0808"/>
<rect x="333.5" y="90.5" width="4" height="4" fill="none" stroke="#dc0808"/>
<polygon points="333.0,94.5 338.0,94.5 335.5,90.5" fill="none" stroke="#dc0808"/>
<rect x="185" y="254" width="5" height="1" fill="#0a0ac0"/>
<rect x="185" y="263" width="5" height="1" fill="#0a0ac0"/>
<rect x="187" y="254" width="1" height="10" fill="#0a0ac0"/>
<rect x="185.5" y="255.5" width="4" height="4" fill="none" stroke="#0a0ac0"/>
<polygon points="185.0,262.5 190.0,262.5 187.5,258.5" fill="none" stroke="#0a0ac0"/>
<rect x="190" y="259" width="5" height="1" fill="#10d410"/>
<rect x="190" y="265" width="5" height="1" fill="#10d410"/>
<rect x="192" y="259" width="1" height="7" fill="#10d410"/>
<rect x="190.5" y="260.5" width="4" height="4" fill="none" stroke="#10d410"/>
<polygon points="190.0,264.5 195.0,264.5 192.5,260.5" fill="none" stroke="#10d410"/>
<rect x="195" y="258" width="5" height="1" fill="#dc0808"/>
<rect x="195" y="263" width="5" height="1" fill="#dc0808"/>
<rect x="197" y="258" width="1" height="6" fill="#dc0808"/>
<rect x="195.5" y="258.5" width="4" height="4" fill="none" stroke="#dc0808"/>
<polygon points="195.0,262.5 200.0,262.5 197.5,258.5" fill="none" stroke="#dc0808"/>
<rect x="202" y="257" width="5" height="1" fill="#0a0ac0"/>
<rect x="202" y="267" width="5" height="1" fill="#0a0ac0"/>
<rect x="204" y="257" width="1" height="11" fill="#0a0ac0"/>
<rect x="202.5" y="259.5" width="4" height="4" fill="none" stroke="#0a0ac0"/>
<polygon points="202.0,266.5 207.0,266.5 204.5,262.5" fill="none" stroke="#0a0ac0"/>
<rect x="207" y="258" width="5" height="1" fill="#10d410"/>
<rect x="207" y="267" width="5" height="1" fill="#10d410"/>
<rect x="209" y="258" width="1" height="10" fill="#10d410"/>
<rect x="207.5" y="259.5" width="4" height="4" fill="none" stroke="#10d410"/>
<polygon points="207.0,266.5 212.0,266.5 209.5,262.5" fill="none" stroke="#10d410"/>
<rect x="212" y="258" width="5" height="1" fill="#dc0808"/>
<rect x="212" y="263" width="5" height="1" fill="#dc0808"/>
<rect x="214" y="258" width="1" height="6" fill="#dc0808"/>
<rect x="212.5" y="258.5" width="4" height="4" fill="none" stroke="#dc0808"/>
<polygon points="212.0,262.5 217.0,262.5 214.5,258.5" fill="none" stroke="#dc0808"/>
<rect x="229" y="244" width="5" height="1" fill="#dc0808"/>
<rect x="229" y="250" width="5" height="1" fill="#dc0808"/>
<rect x="231" y="244" width="1" height="7" fill="#dc0808"/>
<rect x="229.5" y="245.5" width="4" height="4" fill="none" stroke="#dc0808"/>
<polygon points="229.0,249.5 234.0,249.5 231.5,245.5" fill="none" stroke="#dc0808"/>
<rect x="219" y="261" width="5" height="1" fill="#0a0ac0"/>
<rect x="219" y="273" width="5" height="1" fill="#0a0ac0"/>
<rect x="221" y="261" width="1" height="13" fill="#0a0ac0"/>
<rect x="219.5" y="263.5" width="4" height="4" fill="none" stroke="#0a0ac0"/>
<polygon points="219.0,271.5 224.0,271.5 221.5,267.5" fill="none" stroke="#0a0ac0"/>
<rect x="224" y="260" width="5" height="1" fill="#10d410"/>
<rect x="224" y="269" width="5" height="1" fill="#10d410"/>
<rect x="226" y="260" width="1" height="10" fill="#10d410"/>
<rect x="224.5" y="261.5" width="4" height="4" fill="none" stroke="#10d410"/>
<polygon points="224.0,268.5 229.0,268.5 226.5,264.5" fill="none" stroke="#10d410"/>
<rect x="236" y="257" width="5" height="1" fill="#0a0ac0"/>
<rect x="236" y="270" width="5" height="1" fill="#0a0ac0"/>
<rect x="238" y="257" width="1" height="14" fill="#0a0ac0"/>
<rect x="236.5" y="260.5" width="4" height="4" fill="none" stroke="#0a0ac0"/>
<polygon points="236.0,268.5 241.0,268.5 238.5,264.5" fill="none" stroke="#0a0ac0"/>
<rect x="240" y="259" width="5" height="1" fill="#10d410"/>
<rect x="240" y="271" width="5" height="1" fill="#10d410"/>
<rect x="242" y="259" width="1" height="13" fill="#10d410"/>
<rect x="240.5" y="261.5" width="4" height="4" fill="none" stroke="#10d410"/>
<polygon points="240.0,269.5 245.0,269.5 242.5,265.5" fill="none" stroke="#10d410"/>
<rect x="246" y="261" width="5" height="1" fill="#dc0808"/>
<rect x="246" y="265" width="5" height="1" fill="#dc0808"/>
<rect x="248" y="261" width="1" height="5" fill="#dc0808"/>
<rect x="246.5" y="261.5" width="4" height="4" fill="none" stroke="#dc0808"/>
<polygon points="246.0,265.5 251.0,265.5 248.5,261.5" fill="none" stroke="#dc0808"/>
<rect x="253" y="255" width="5" height="1" fill="#0a0ac0"/>
<rect x="253" y="268" width="5" height="1" fill="#0a0ac0"/>
<rect x="255" y="255" width="1" height="14" fill="#0a0ac0"/>
<rect x="253.5" y="258.5" width="4" height="4" fill="none" stroke="#0a0ac0"/>
<polygon points="253.0,266.5 258.0,266.5 255.5,262.5" fill="none" stroke="#0a0ac0"/>
<rect x="258" y="258" width="5" height="1" fill="#10d410"/>
<rect x="258" y="267" width="5" height="1" fill="#10d410"/>
<rect x="260" y="258" width="1" height="10" fill="#10d410"/>
<rect x="258.5" y="259.5" width="4" height="4" fill="none" stroke="#10d410"/>
<polygon points="258.0,266.5 263.0,266.5 260.5,262.5" fill="none" stroke="#10d410"/>
<rect x="263" y="265" width="5" height="1" fill="#dc0808"/>
<rect x="263" y="270" width="5" height="1" fill="#dc0808"/>
<rect x="265" y="265" width="1" height="6" fill="#dc0808"/>
<rect x="263.5" y="266.5" width="4" height="4" fill="none" stroke="#dc0808"/>
<polygon points="263.0,270.5 268.0,270.5 265.5,266.5" fill="none" stroke="#dc0808"/>
<rect x="270" y="253" width="5" height="1" fill="#0a0ac0"/>
<rect x="270" y="265" width="5" height="1" fill="#0a0ac0"/>
<rect x="272" y="253" width="1" height="13" fill="#0a0ac0"/>
<rect x="270.5" y="255.5" width="4" height="4" fill="none" stroke="#0a0ac0"/>
<polygon points="270.0,263.5 275.0,263.5 272.5,259.5" fill="none" stroke="#0a0ac0"/>
<rect x="275" y="256" width="5" height="1" fill="#10d410"/>
<rect x="275" y="263" width="5" height="1" fill="#10d410"/>
<rect x="277" y="256" width="1" height="8" fill="#10d410"/>
<rect x="275.5" y="258.5" width="4" height="4" fill="none" stroke="#10d410"/>
<polygon points="275.0,262.5 280.0,262.5 277.5,258.5" fill="none" stroke="#10d410"/>
<rect x="280" y="264" width="5" height="1" fill="#dc0808"/>
<rect x="280" y="270" width="5" height="1" fill="#dc0808"/>
<rect x="282" y="264" width="1" height="7" fill="#dc0808"/>
<rect x="280.5" y="265.5" width="4" height="4" fill="none" stroke="#dc0808"/>
<polygon points="280.0,269.5 285.0,269.5 282.5,265.5" fill="none" stroke="#dc0808"/>
<rect x="287" y="244" width="5" height="1" fill="#0a0ac0"/>
<rect x="287" y="260" width="5" height="1" fill="#0a0ac0"/>
<rect x="289" y="244" width="1" height="17" fill="#0a0ac0"/>
<rect x="287.5" y="248.5" width="4" height="4" fill="none" stroke="#0a0ac0"/>
<polygon points="287.0,257.5 292.0,257.5 289.5,253.5" fill="none" stroke="#0a0ac0"/>
<rect x="292.5" y="245.5" width="4" height="5" fill="none" stroke="#10d410"/>
<path d="M294 262h1v1h-1zM293 263h3v1h-3zM292 264h2v1h-2zM295 264h2v1h-2zM292 265h5v1h-5z" fill="#10d410"/>
<rect x="297" y="257" width="5" height="1" fill="#dc0808"/>
<rect x="297" y="263" width="5" height="1" fill="#dc0808"/>
<rect x="299" y="257" width="1" height="7" fill="#dc0808"/>
<rect x="297.5" y="258.5" width="4" height="4" fill="none" stroke="#dc0808"/>
<polygon points="297.0,262.5 302.0,262.5 299.5,258.5" fill="none" stroke="#dc0808"/>
<rect x="304" y="251" width="5" height="1" fill="#0a0ac0"/>
<rect x="304" y="268" width="5" height="1" fill="#0a0ac0"/>
<rect x="306" y="251" width="1" height="18" fill="#0a0ac0"/>
<rect x="304.5" y="255.5" width="4" height="4" fill="none" stroke="#0a0ac0"/>
<polygon points="304.0,264.5 309.0,264.5 306.5,260.5" fill="none" stroke="#0a0ac0"/>
<rect x="309" y="255" width="5" height="1" fill="#10d410"/>
<rect x="309" y="261" width="5" height="1" fill="#10d410"/>
<rect x="311" y="255" width="1" height="7" fill="#10d410"/>
<rect x="309.5" y="256.5" width="4" height="4" fill="none" stroke="#10d410"/>
<polygon points="309.0,260.5 314.0,260.5 311.5,256.5" fill="none" stroke="#10d410"/>
<rect x="314" y="262" width="5" height="1" fill="#dc0808"/>
<rect x="314" y="267" width="5" height="1" fill="#dc0808"/>
<rect x="316" y="262" width="1" height="6" fill="#dc0808"/>
<rect x="314.5" y="262.5" width="4" height="4" fill="none" stroke="#dc0808"/>
<polygon points="314.0,266.5 319.0,266.5 316.5,262.5" fill="none" stroke="#dc0808"/>
<rect x="322" y="245" width="5" height="1" fill="#0a0ac0"/>
<rect x="322" y="256" width="5" height="1" fill="#0a0ac0"/>
<rect x="324" y="245" width="1" height="12" fill="#0a0ac0"/>
<rect x="322.5" y="247.5" width="4" height="4" fill="none" stroke="#0a0ac0"/>
<polygon points="322.0,254.5 327.0,254.5 324.5,250.5" fill="none" stroke="#0a0ac0"/>
<rect x="326" y="241" width="5" height="1" fill="#10d410"/>
<rect x="326" y="252" width="5" height="1" fill="#10d410"/>
<rect x="328" y="241" width="1" height="12" fill="#10d410"/>
<rect x="326.5" y="243.5" width="4" height="4" fill="none" stroke="#10d410"/>
<polygon points="326.0,250.5 331.0,250.5 328.5,246.5" fill="none" stroke="#10d410"/>
<rect x="331" y="284" width="6" height="5" fill="#dc0808"/>
<rect x="332" y="287" width="4" height="1" fill="#fff"/>
<path d="M334 290h1v1h-1zM333 291h3v1h-3zM332 292h5v1h-5zM332 293h1v1h-1zM336 293h1v1h-1zM332 294h5v1h-5z" fill="#dc0808"/>
<rect x="184" y="438" width="5" height="1" fill="#0a0ac0"/>
<rect x="184" y="443" width="5" height="1" fill="#0a0ac0"/>
<rect x="186" y="438" width="1" height="6" fill="#0a0ac0"/>
<polygon points="184.5,442.5 188.5,442.5 186.5,438.5" fill="none" stroke="#0a0ac0"/>
<rect x="188" y="438" width="5" height="1" fill="#10d410"/>
<rect x="188" y="442" width="5" height="1" fill="#10d410"/>
<rect x="190" y="438" width="1" height="5" fill="#10d410"/>
<polygon points="188.5,441.5 192.5,441.5 190.5,437.5" fill="none" stroke="#10d410"/>
<rect x="192" y="438" width="5" height="1" fill="#dc0808"/>
<rect x="192" y="443" width="5" height="1" fill="#dc0808"/>
<rect x="194" y="438" width="1" height="6" fill="#dc0808"/>
<polygon points="192.5,442.5 196.5,442.5 194.5,438.5" fill="none" stroke="#dc0808"/>
<rect x="201" y="438" width="5" height="1" fill="#0a0ac0"/>
<rect x="201" y="443" width="5" height="1" fill="#0a0ac0"/>
<rect x="203" y="438" width="1" height="6" fill="#0a0ac0"/>
<polygon points="201.5,442.5 205.5,442.5 203.5,438.5" fill="none" stroke="#0a0ac0"/>
<rect x="205" y="435" width="5" height="1" fill="#10d410"/>
<rect x="205" y="440" width="5" height="1" fill="#10d410"/>
<rect x="207" y="435" width="1" height="6" fill="#10d410"/>
<polygon points="205.5,439.5 209.5,439.5 207.5,435.5" fill="none" stroke="#10d410"/>
<rect x="209" y="441" width="5" height="1" fill="#dc0808"/>
<rect x="209" y="446" width="5" height="1" fill="#dc0808"/>
<rect x="211" y="441" width="1" height="6" fill="#dc0808"/>
<polygon points="209.5,445.5 213.5,445.5 211.5,441.5" fill="none" stroke="#dc0808"/>
<rect x="218" y="436" width="5" height="1" fill="#0a0ac0"/>
<rect x="218" y="441" width="5" height="1" fill="#0a0ac0"/>
<rect x="220" y="436" width="1" height="6" fill="#0a0ac0"/>
<polygon points="218.5,440.5 222.5,440.5 220.5,436.5" fill="none" stroke="#0a0ac0"/>
<rect x="222" y="438" width="5" height="1" fill="#10d410"/>
<rect x="222" y="443" width="5" height="1" fill="#10d410"/>
<rect x="224" y="438" width="1" height="6" fill="#10d410"/>
<polygon points="222.5,442.5 226.5,442.5 224.5,438.5" fill="none" stroke="#10d410"/>
<rect x="227" y="441" width="5" height="1" fill="#dc0808"/>
<rect x="227" y="445" width="5" height="1" fill="#dc0808"/>
<rect x="229" y="441" width="1" height="5" fill="#dc0808"/>
<polygon points="227.5,445.5 231.5,445.5 229.5,441.5" fill="none" stroke="#dc0808"/>
<rect x="235" y="438" width="5" height="1" fill="#0a0ac0"/>
<rect x="235" y="443" width="5" height="1" fill="#0a0ac0"/>
<rect x="237" y="438" width="1" height="6" fill="#0a0ac0"/>
<polygon points="235.5,442.5 239.5,442.5 237.5,438.5" fill="none" stroke="#0a0ac0"/>
<rect x="239" y="437" width="5" height="1" fill="#10d410"/>
<rect x="239" y="443" width="5" height="1" fill="#10d410"/>
<rect x="241" y="437" width="1" height="7" fill="#10d410"/>
<polygon points="239.5,441.5 243.5,441.5 241.5,437.5" fill="none" stroke="#10d410"/>
<rect x="244" y="435" width="5" height="1" fill="#dc0808"/>
<rect x="244" y="441" width="5" height="1" fill="#dc0808"/>
<rect x="246" y="435" width="1" height="7" fill="#dc0808"/>
<polygon points="244.5,439.5 248.5,439.5 246.5,435.5" fill="none" stroke="#dc0808"/>
<rect x="252" y="437" width="5" height="1" fill="#0a0ac0"/>
<rect x="252" y="442" width="5" height="1" fill="#0a0ac0"/>
<rect x="254" y="437" width="1" height="6" fill="#0a0ac0"/>
<polygon points="252.5,441.5 256.5,441.5 254.5,437.5" fill="none" stroke="#0a0ac0"/>
<rect x="257" y="439" width="5" height="1" fill="#10d410"/>
<rect x="257" y="444" width="5" height="1" fill="#10d410"/>
<rect x="259" y="439" width="1" height="6" fill="#10d410"/>
<polygon points="257.5,443.5 261.5,443.5 259.5,439.5" fill="none" stroke="#10d410"/>
<rect x="261" y="427" width="5" height="1" fill="#dc0808"/>
<rect x="261" y="433" width="5" height="1" fill="#dc0808"/>
<rect x="263" y="427" width="1" height="7" fill="#dc0808"/>
<polygon points="261.5,431.5 265.5,431.5 263.5,427.5" fill="none" stroke="#dc0808"/>
<rect x="269" y="436" width="5" height="1" fill="#0a0ac0"/>
<rect x="269" y="443" width="5" height="1" fill="#0a0ac0"/>
<rect x="271" y="436" width="1" height="8" fill="#0a0ac0"/>
<polygon points="269.5,441.5 273.5,441.5 271.5,437.5" fill="none" stroke="#0a0ac0"/>
<rect x="274" y="438" width="5" height="1" fill="#10d410"/>
<rect x="274" y="442" width="5" height="1" fill="#10d410"/>
<rect x="276" y="438" width="1" height="5" fill="#10d410"/>
<polygon points="274.5,441.5 278.5,441.5 276.5,437.5" fill="none" stroke="#10d410"/>
<rect x="278" y="425" width="5" height="1" fill="#dc0808"/>
<rect x="278" y="429" width="5" height="1" fill="#dc0808"/>
<rect x="280" y="425" width="1" height="5" fill="#dc0808"/>
<polygon points="278.5,429.5 282.5,429.5 280.5,425.5" fill="none" stroke="#dc0808"/>
<rect x="286" y="435" width="5" height="1" fill="#0a0ac0"/>
<rect x="286" y="443" width="5" height="1" fill="#0a0ac0"/>
<rect x="288" y="435" width="1" height="9" fill="#0a0ac0"/>
<polygon points="286.5,441.5 290.5,441.5 288.5,437.5" fill="none" stroke="#0a0ac0"/>
<rect x="291" y="442" width="5" height="1" fill="#10d410"/>
<rect x="291" y="446" width="5" height="1" fill="#10d410"/>
<rect x="293" y="442" width="1" height="5" fill="#10d410"/>
<polygon points="291.5,445.5 295.5,445.5 293.5,441.5" fill="none" stroke="#10d410"/>
<rect x="295" y="440" width="5" height="1" fill="#dc0808"/>
<rect x="295" y="444" width="5" height="1" fill="#dc0808"/>
<rect x="297" y="440" width="1" height="5" fill="#dc0808"/>
<polygon points="295.5,443.5 299.5,443.5 297.5,439.5" fill="none" stroke="#dc0808"/>
<rect x="303" y="437" width="5" height="1" fill="#0a0ac0"/>
<rect x="303" y="444" width="5" height="1" fill="#0a0ac0"/>
<rect x="305" y="437" width="1" height="8" fill="#0a0ac0"/>
<polygon points="303.5,442.5 307.5,442.5 305.5,438.5" fill="none" stroke="#0a0ac0"/>
<rect x="308" y="436" width="5" height="1" fill="#10d410"/>
<rect x="308" y="440" width="5" height="1" fill="#10d410"/>
<rect x="310" y="436" width="1" height="5" fill="#10d410"/>
<polygon points="308.5,439.5 312.5,439.5 310.5,435.5" fill="none" stroke="#10d410"/>
<rect x="312" y="416" width="5" height="1" fill="#dc0808"/>
<rect x="312" y="420" width="5" height="1" fill="#dc0808"/>
<rect x="314" y="416" width="1" height="5" fill="#dc0808"/>
<polygon points="312.5,419.5 316.5,419.5 314.5,415.5" fill="none" stroke="#dc0808"/>
<rect x="321" y="431" width="5" height="1" fill="#0a0ac0"/>
<rect x="321" y="437" width="5" height="1" fill="#0a0ac0"/>
<rect x="323" y="431" width="1" height="7" fill="#0a0ac0"/>
<polygon points="321.5,435.5 325.5,435.5 323.5,431.5" fill="none" stroke="#0a0ac0"/>
<rect x="325" y="439" width="5" height="1" fill="#10d410"/>
<rect x="325" y="444" width="5" height="1" fill="#10d410"/>
<rect x="327" y="439" width="1" height="6" fill="#10d410"/>
<polygon points="325.5,443.5 329.5,443.5 327.5,439.5" fill="none" stroke="#10d410"/>
<rect x="329" y="417" width="5" height="1" fill="#dc0808"/>
<rect x="329" y="422" width="5" height="1" fill="#dc0808"/>
<rect x="331" y="417" width="1" height="6" fill="#dc0808"/>
<polygon points="329.5,421.5 333.5,421.5 331.5,417.5" fill="none" stroke="#dc0808"/>
<path d="M686 394h1v1h-1zM685 395h1v1h-1zM687 395h1v1h-1zM685 396h1v1h-1zM687 396h1v1h-1zM684 397h1v1h-1zM688 397h1v1h-1zM684 398h5v1h-5z" fill="#941820"/>
<path d="M765 404h1v1h-1zM764 405h1v1h-1zM766 405h1v1h-1zM764 406h1v1h-1zM766 406h1v1h-1zM763 407h1v1h-1zM767 407h1v1h-1zM763 408h5v1h-5z" fill="#38a848"/>
<path d="M658 420h1v1h-1zM657 421h1v1h-1zM659 421h1v1h-1zM657 422h1v1h-1zM659 422h1v1h-1zM656 423h1v1h-1zM660 423h1v1h-1zM656 424h5v1h-5z" fill="#1c168c"/>
<path d="M692 426h1v1h-1zM691 427h1v1h-1zM693 427h1v1h-1zM691 428h1v1h-1zM693 428h1v1h-1zM690 429h1v1h-1zM694 429h1v1h-1zM690 430h5v1h-5z" fill="#1c168c"/>
<path d="M737 428h1v1h-1zM736 429h1v1h-1zM738 429h1v1h-1zM736 430h1v1h-1zM738 430h1v1h-1zM735 431h1v1h-1zM739 431h1v1h-1zM735 432h5v1h-5z" fill="#941820"/>
<path d="M771 426h1v1h-1zM770 427h1v1h-1zM772 427h1v1h-1zM770 428h1v1h-1zM772 428h1v1h-1zM769 429h1v1h-1zM773 429h1v1h-1zM769 430h5v1h-5z" fill="#941820"/>
<path d="M799 427h1v1h-1zM798 428h1v1h-1zM800 428h1v1h-1zM798 429h1v1h-1zM800 429h1v1h-1zM797 430h1v1h-1zM801 430h1v1h-1zM797 431h5v1h-5z" fill="#38a848"/>
<path d="M795 432h1v1h-1zM794 433h1v1h-1zM796 433h1v1h-1zM794 434h1v1h-1zM796 434h1v1h-1zM793 435h1v1h-1zM797 435h1v1h-1zM793 436h5v1h-5z" fill="#1c168c"/>
<path d="M754 432h1v1h-1zM753 433h1v1h-1zM755 433h1v1h-1zM753 434h1v1h-1zM755 434h1v1h-1zM752 435h1v1h-1zM756 435h1v1h-1zM752 436h5v1h-5z" fill="#941820"/>
<path d="M760 433h1v1h-1zM759 434h1v1h-1zM761 434h1v1h-1zM759 435h1v1h-1zM761 435h1v1h-1zM758 436h1v1h-1zM762 436h1v1h-1zM758 437h5v1h-5z" fill="#1c168c"/>
<path d="M748 435h1v1h-1zM747 436h1v1h-1zM749 436h1v1h-1zM747 437h1v1h-1zM749 437h1v1h-1zM746 438h1v1h-1zM750 438h1v1h-1zM746 439h5v1h-5z" fill="#38a848"/>
<path d="M743 437h1v1h-1zM742 438h1v1h-1zM744 438h1v1h-1zM742 439h1v1h-1zM744 439h1v1h-1zM741 440h1v1h-1zM745 440h1v1h-1zM741 441h5v1h-5z" fill="#1c168c"/>
<path d="M782 435h1v1h-1zM781 436h1v1h-1zM783 436h1v1h-1zM781 437h1v1h-1zM783 437h1v1h-1zM780 438h1v1h-1zM784 438h1v1h-1zM780 439h5v1h-5z" fill="#38a848"/>
<path d="M778 441h1v1h-1zM777 442h1v1h-1zM779 442h1v1h-1zM777 443h1v1h-1zM779 443h1v1h-1zM776 444h1v1h-1zM780 444h1v1h-1zM776 445h5v1h-5z" fill="#1c168c"/>
<path d="M696 437h1v1h-1zM695 438h1v1h-1zM697 438h1v1h-1zM695 439h1v1h-1zM697 439h1v1h-1zM694 440h1v1h-1zM698 440h1v1h-1zM694 441h5v1h-5z" fill="#38a848"/>
<path d="M703 437h1v1h-1zM702 438h1v1h-1zM704 438h1v1h-1zM702 439h1v1h-1zM704 439h1v1h-1zM701 440h1v1h-1zM705 440h1v1h-1zM701 441h5v1h-5z" fill="#941820"/>
<path d="M710 437h1v1h-1zM709 438h1v1h-1zM711 438h1v1h-1zM709 439h1v1h-1zM711 439h1v1h-1zM708 440h1v1h-1zM712 440h1v1h-1zM708 441h5v1h-5z" fill="#1c168c"/>
<path d="M675 441h1v1h-1zM674 442h1v1h-1zM676 442h1v1h-1zM674 443h1v1h-1zM676 443h1v1h-1zM673 444h1v1h-1zM677 444h1v1h-1zM673 445h5v1h-5z" fill="#1c168c"/>
<path d="M680 443h1v1h-1zM679 444h1v1h-1zM681 444h1v1h-1zM679 445h1v1h-1zM681 445h1v1h-1zM678 446h1v1h-1zM682 446h1v1h-1zM678 447h5v1h-5z" fill="#38a848"/>
<path d="M726 446h1v1h-1zM725 447h1v1h-1zM727 447h1v1h-1zM725 448h1v1h-1zM727 448h1v1h-1zM724 449h1v1h-1zM728 449h1v1h-1zM724 450h5v1h-5z" fill="#1c168c"/>
<path d="M662 451h1v1h-1zM661 452h1v1h-1zM663 452h1v1h-1zM661 453h1v1h-1zM663 453h1v1h-1zM660 454h1v1h-1zM664 454h1v1h-1zM660 455h5v1h-5z" fill="#38a848"/>
<path d="M730 453h1v1h-1zM729 454h1v1h-1zM731 454h1v1h-1zM729 455h1v1h-1zM731 455h1v1h-1zM728 456h1v1h-1zM732 456h1v1h-1zM728 457h5v1h-5z" fill="#38a848"/>
<path d="M713 456h1v1h-1zM712 457h1v1h-1zM714 457h1v1h-1zM712 458h1v1h-1zM714 458h1v1h-1zM711 459h1v1h-1zM715 459h1v1h-1zM711 460h5v1h-5z" fill="#38a848"/>
<path d="M720 473h1v1h-1zM719 474h1v1h-1zM721 474h1v1h-1zM719 475h1v1h-1zM721 475h1v1h-1zM718 476h1v1h-1zM722 476h1v1h-1zM718 477h5v1h-5z" fill="#941820"/>
<polyline points="654,119.5 663,119.8 670,120.3 686,120.8 702,121.5 716,122.3 722,122.6 735,124 745,124.6 760,125.2 770,125.8 780,125.8 786,124 795,120.6" fill="none" stroke="#1c16a0" stroke-width="1" stroke-linejoin="round" shape-rendering="crispEdges"/>
<polyline points="663,120.6 668,120.6 672,121.4 681,121.5 689,121.6 710,121.8 722,123.6 735,124.3" fill="none" stroke="#1c16a0" stroke-width="1" stroke-linejoin="round" shape-rendering="crispEdges"/>
<polyline points="669.3,117.3 678,120.5 685.6,124.7 692,124.7 702,123 720,134.2 724.3,134.4 737.6,131.9 752.4,125.2 771.9,106.2 788.9,114.5 805.2,81.5" fill="none" stroke="#cc1c1c" stroke-width="1" stroke-linejoin="round" shape-rendering="crispEdges"/>
<polyline points="659.3,135.4 666.7,135.5 668,136.3 687,137 702,136.5 722,137 723,136.3 734.6,136.3 736,135.6 747.2,134.4 765,125.6 779.3,134 786,136.3 800,136.3" fill="none" stroke="#28c83a" stroke-width="1" stroke-linejoin="round" shape-rendering="crispEdges"/>
<polyline points="669.2,114.1 677.8,119.4" fill="none" stroke="#cc1c1c" stroke-width="1" stroke-linejoin="round" shape-rendering="crispEdges"/>
<polyline points="740.1,130 745.8,126.6" fill="none" stroke="#cc1c1c" stroke-width="1" stroke-linejoin="round" shape-rendering="crispEdges"/>
<polyline points="753,121.6 757.6,115.3" fill="none" stroke="#cc1c1c" stroke-width="1" stroke-linejoin="round" shape-rendering="crispEdges"/>
<polyline points="762,107.4 766.7,101.5" fill="none" stroke="#cc1c1c" stroke-width="1" stroke-linejoin="round" shape-rendering="crispEdges"/>
<polyline points="772.6,95.3 778.6,100.2" fill="none" stroke="#cc1c1c" stroke-width="1" stroke-linejoin="round" shape-rendering="crispEdges"/>
<polyline points="786.3,109 790,105.6" fill="none" stroke="#cc1c1c" stroke-width="1" stroke-linejoin="round" shape-rendering="crispEdges"/>
<polyline points="793.3,97.4 795.9,91.3" fill="none" stroke="#cc1c1c" stroke-width="1" stroke-linejoin="round" shape-rendering="crispEdges"/>
<polyline points="799.2,83.3 801.7,77.2" fill="none" stroke="#cc1c1c" stroke-width="1" stroke-linejoin="round" shape-rendering="crispEdges"/>
<polyline points="805,68.5 805.6,67.6" fill="none" stroke="#cc1c1c" stroke-width="1" stroke-linejoin="round" shape-rendering="crispEdges"/>
<polyline points="738.3,127.4 743.3,127.4" fill="none" stroke="#1c16a0" stroke-width="1" stroke-linejoin="round" shape-rendering="crispEdges"/>
<polyline points="752,127.4 758.3,127.4" fill="none" stroke="#1c16a0" stroke-width="1" stroke-linejoin="round" shape-rendering="crispEdges"/>
<polyline points="743.3,136.6 749.5,136.6" fill="none" stroke="#28c83a" stroke-width="1" stroke-linejoin="round" shape-rendering="crispEdges"/>
<polyline points="757,135.3 764,135.3" fill="none" stroke="#28c83a" stroke-width="1" stroke-linejoin="round" shape-rendering="crispEdges"/>
<polyline points="770.8,135.5 777.8,135.5" fill="none" stroke="#28c83a" stroke-width="1" stroke-linejoin="round" shape-rendering="crispEdges"/>
<polyline points="663,288.4 673,289.8 679,291.6 695,292.4 705,293.3 721,295 740,295 762,292.9 769,290.7 787,290.7 790.4,289.2 794,275 805.8,229.7" fill="none" stroke="#cc1c1c" stroke-width="1" stroke-linejoin="round" shape-rendering="crispEdges"/>
<polyline points="668,289.6 690,292.6 720,294.4 745,294.5 765,292.2 788,290.6" fill="none" stroke="#cc1c1c" stroke-width="1" stroke-linejoin="round" shape-rendering="crispEdges"/>
<polyline points="788.2,289 791.1,277.2" fill="none" stroke="#cc1c1c" stroke-width="1" stroke-linejoin="round" shape-rendering="crispEdges"/>
<polyline points="654.2,294.2 656.3,296.3 665.6,297.9 670.8,299 700,299.2 705,299.4 718,300.7 734,301.4 746,302.4 779.4,302 785.3,300.2 794.7,297.3" fill="none" stroke="#1c16a0" stroke-width="1" stroke-linejoin="round" shape-rendering="crispEdges"/>
<polyline points="656,295.5 665,298.6 700,300.2 734,302.2 750,303 779,302.8 786,301 794,298.2" fill="none" stroke="#1c16a0" stroke-width="1" stroke-linejoin="round" shape-rendering="crispEdges"/>
<polyline points="735,300.6 750,301.5" fill="none" stroke="#28c83a" stroke-width="1" stroke-linejoin="round" shape-rendering="crispEdges"/>
<polyline points="776,301.6 786,300.6" fill="none" stroke="#28c83a" stroke-width="1" stroke-linejoin="round" shape-rendering="crispEdges"/>
<polyline points="665.6,304.4 680,305.5 700,306.2 740,306.4 783.8,305.7 799.9,299.1" fill="none" stroke="#28c83a" stroke-width="1" stroke-linejoin="round" shape-rendering="crispEdges"/>
<polyline points="659.4,303.4 664.6,303.6 668,304.4" fill="none" stroke="#cc1c1c" stroke-width="1" stroke-linejoin="round" shape-rendering="crispEdges"/>
<polyline points="668,304.4 680,305.4 695,306.4 740,306.4 786.7,306 792.6,305" fill="none" stroke="#cc1c1c" stroke-width="1" stroke-linejoin="round" stroke-dasharray="6,6" shape-rendering="crispEdges"/>
<rect x="787" y="288" width="1" height="1" fill="#cc1c1c"/>
<rect x="796" y="278" width="1" height="1" fill="#cc1c1c"/>
<rect x="796" y="287" width="1" height="1" fill="#cc1c1c"/>
<rect x="800" y="285" width="1" height="1" fill="#cc1c1c"/>
<rect x="803" y="267" width="1" height="1" fill="#cc1c1c"/>
<rect x="800" y="272" width="1" height="1" fill="#cc1c1c"/>
<rect x="796" y="278" width="1" height="1" fill="#cc1c1c"/>
<rect x="801" y="276" width="1" height="1" fill="#cc1c1c"/>
</svg>
</body></html>
